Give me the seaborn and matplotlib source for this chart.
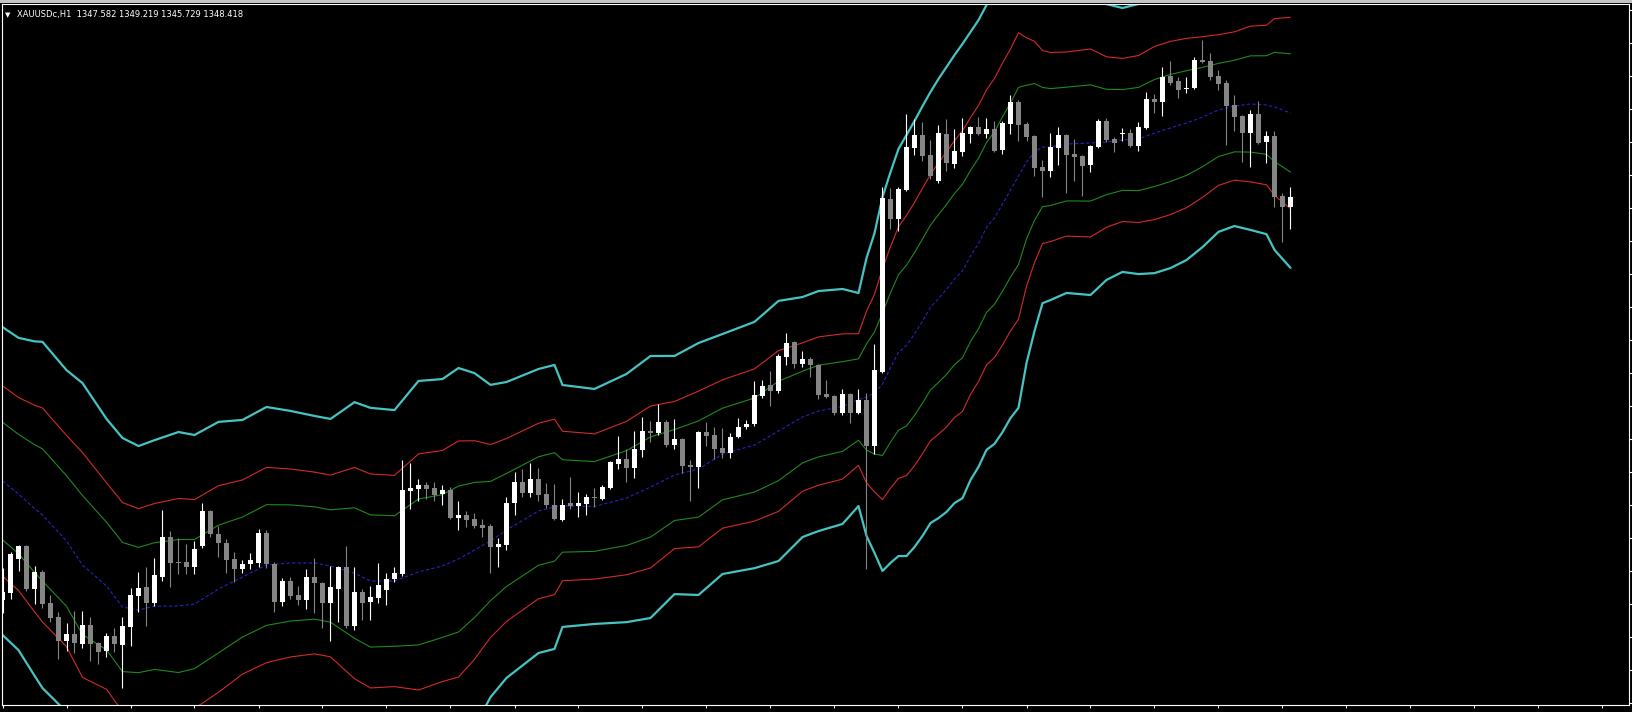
import numpy as np
import pandas as pd
import matplotlib
matplotlib.use("Agg")
import matplotlib.pyplot as plt
import seaborn as sns
from matplotlib.ticker import MultipleLocator, NullFormatter
from matplotlib.patches import Rectangle

# XAUUSDc H1 candles (oldest -> newest)
opens = [1314.84, 1315.42, 1318.25, 1319.34, 1315.75, 1317.17, 1314.59, 1313.42, 1311.42, 1312.00,
         1311.17, 1312.75, 1311.25, 1310.59, 1311.84, 1311.09, 1312.59, 1315.17, 1315.92, 1314.59,
         1316.75, 1320.09, 1318.00, 1318.00, 1317.59, 1319.34, 1322.25, 1320.34, 1319.59, 1318.25,
         1317.42, 1317.84, 1317.92, 1320.42, 1317.84, 1314.67, 1316.42, 1315.25, 1314.84, 1316.75,
         1316.25, 1314.59, 1315.75, 1317.59, 1312.67, 1315.50, 1314.67, 1315.00, 1315.67, 1316.59,
         1317.00, 1323.92, 1324.09, 1324.42, 1324.17, 1323.67, 1324.00, 1321.67, 1321.92, 1321.59,
         1321.09, 1321.00, 1319.25, 1319.42, 1322.92, 1324.67, 1323.75, 1324.92, 1323.67, 1322.75,
         1321.50, 1322.92, 1322.67, 1322.84, 1323.42, 1323.25, 1324.17, 1326.17, 1326.59, 1325.84,
         1327.34, 1328.92, 1328.75, 1329.67, 1327.75, 1328.25, 1326.09, 1325.92, 1328.84, 1328.59,
         1327.50, 1327.09, 1328.42, 1329.25, 1329.50, 1331.84, 1332.75, 1332.25, 1335.09, 1336.34,
         1334.50, 1334.92, 1334.42, 1332.00, 1331.84, 1330.42, 1332.00, 1330.42, 1331.50, 1327.67,
         1333.84, 1348.25, 1346.59, 1349.00, 1352.50, 1353.59, 1351.92, 1349.75, 1353.67, 1351.17,
         1352.17, 1353.67, 1354.25, 1353.67, 1354.09, 1352.34, 1354.50, 1356.34, 1354.50, 1353.50,
         1350.92, 1350.59, 1352.50, 1353.59, 1352.00, 1351.84, 1351.09, 1352.59, 1354.75, 1353.25,
         1353.67, 1353.75, 1352.67, 1354.17, 1356.59, 1356.34, 1358.50, 1358.09, 1357.42, 1357.50,
         1359.84, 1359.75, 1358.50, 1357.92, 1356.09, 1355.17, 1353.75, 1355.34, 1353.00, 1353.50,
         1348.50, 1347.582]
highs = [1317.50, 1318.84, 1319.42, 1319.42, 1317.67, 1317.34, 1315.25, 1313.84, 1312.92, 1313.92,
         1313.92, 1313.42, 1311.34, 1312.09, 1312.50, 1313.42, 1315.84, 1317.17, 1317.59, 1318.34,
         1322.34, 1320.59, 1320.00, 1319.50, 1319.75, 1322.92, 1322.34, 1321.00, 1319.92, 1318.84,
         1318.17, 1318.75, 1320.75, 1320.67, 1318.00, 1316.67, 1316.75, 1316.00, 1317.42, 1318.34,
         1316.34, 1317.67, 1317.67, 1319.34, 1317.59, 1315.75, 1316.00, 1317.92, 1317.09, 1317.59,
         1326.50, 1326.25, 1324.92, 1324.67, 1324.67, 1324.42, 1324.25, 1323.09, 1322.25, 1322.09,
         1321.59, 1321.17, 1320.00, 1323.42, 1325.50, 1325.75, 1326.25, 1325.84, 1324.59, 1324.50,
         1323.25, 1325.09, 1323.84, 1323.67, 1324.17, 1324.42, 1326.42, 1328.50, 1327.42, 1328.92,
         1330.09, 1329.75, 1331.17, 1329.84, 1329.92, 1328.34, 1326.50, 1328.92, 1329.67, 1329.25,
         1329.17, 1328.75, 1330.00, 1329.84, 1333.09, 1333.17, 1333.92, 1335.34, 1337.09, 1336.42,
         1335.59, 1335.09, 1334.50, 1333.17, 1331.92, 1332.42, 1332.09, 1332.42, 1332.09, 1336.17,
         1349.25, 1349.17, 1349.25, 1355.34, 1354.92, 1354.67, 1353.17, 1354.42, 1354.92, 1354.09,
         1355.00, 1354.34, 1355.09, 1355.00, 1354.75, 1354.75, 1356.92, 1356.50, 1354.67, 1353.59,
         1351.50, 1353.75, 1354.25, 1353.67, 1353.25, 1351.92, 1352.75, 1354.92, 1355.00, 1353.42,
         1354.17, 1354.09, 1354.67, 1357.17, 1357.00, 1359.25, 1359.75, 1358.42, 1358.42, 1360.09,
         1361.50, 1360.42, 1359.00, 1358.17, 1356.92, 1355.25, 1355.67, 1356.42, 1353.92, 1353.92,
         1348.75, 1349.219]
lows = [1313.75, 1314.92, 1317.25, 1315.59, 1314.50, 1314.17, 1313.00, 1309.92, 1310.59, 1310.42,
        1310.84, 1309.75, 1309.50, 1310.09, 1310.50, 1307.50, 1311.00, 1313.84, 1312.67, 1314.34,
        1316.42, 1315.92, 1317.00, 1317.00, 1317.00, 1319.17, 1320.09, 1318.42, 1317.09, 1316.34,
        1317.09, 1317.42, 1317.59, 1317.50, 1313.84, 1314.34, 1314.92, 1314.42, 1314.09, 1313.75,
        1312.50, 1311.42, 1313.00, 1312.50, 1312.34, 1313.17, 1313.17, 1314.59, 1314.42, 1316.34,
        1316.84, 1322.42, 1323.09, 1323.25, 1323.09, 1322.75, 1321.59, 1320.67, 1320.92, 1320.84,
        1320.09, 1317.09, 1317.59, 1319.00, 1321.92, 1323.42, 1323.42, 1323.09, 1322.50, 1321.50,
        1321.42, 1322.42, 1321.75, 1321.92, 1322.59, 1323.17, 1324.09, 1325.75, 1324.67, 1325.00,
        1326.75, 1328.00, 1328.59, 1327.59, 1327.42, 1325.42, 1323.09, 1324.17, 1327.67, 1326.59,
        1326.67, 1326.67, 1328.34, 1329.09, 1329.34, 1331.67, 1331.00, 1332.09, 1334.42, 1334.17,
        1334.25, 1333.42, 1331.59, 1331.67, 1330.25, 1330.25, 1329.59, 1330.34, 1317.42, 1327.00,
        1333.75, 1345.75, 1345.59, 1348.92, 1351.92, 1351.42, 1349.92, 1349.59, 1350.59, 1350.84,
        1351.84, 1352.92, 1353.59, 1353.34, 1352.17, 1352.00, 1353.67, 1353.09, 1353.09, 1350.17,
        1348.42, 1350.09, 1351.09, 1348.75, 1349.75, 1348.50, 1350.50, 1352.50, 1353.00, 1352.17,
        1353.09, 1352.59, 1352.25, 1354.09, 1355.42, 1355.17, 1357.75, 1356.67, 1357.09, 1357.42,
        1359.59, 1358.17, 1357.34, 1352.75, 1353.92, 1351.34, 1350.92, 1352.84, 1351.25, 1347.59,
        1344.67, 1345.729]
closes = [1315.50, 1318.67, 1319.34, 1315.75, 1317.17, 1314.50, 1313.34, 1311.42, 1312.00, 1311.25,
          1312.75, 1311.17, 1310.50, 1311.84, 1311.17, 1312.67, 1315.25, 1315.84, 1314.59, 1316.92,
          1320.09, 1317.92, 1317.92, 1317.59, 1319.09, 1322.25, 1320.34, 1319.59, 1318.17, 1317.42,
          1317.84, 1318.17, 1320.42, 1317.84, 1314.67, 1316.42, 1315.17, 1314.84, 1316.75, 1316.25,
          1314.59, 1315.92, 1317.59, 1312.67, 1315.50, 1314.59, 1315.09, 1316.09, 1316.59, 1317.09,
          1324.00, 1324.17, 1324.42, 1324.09, 1323.59, 1324.00, 1321.67, 1321.92, 1321.50, 1321.00,
          1320.84, 1319.25, 1319.50, 1322.92, 1324.67, 1323.75, 1324.92, 1323.59, 1322.75, 1321.59,
          1322.75, 1322.67, 1322.92, 1323.42, 1323.34, 1324.25, 1326.34, 1326.59, 1325.84, 1327.42,
          1328.92, 1328.75, 1329.67, 1327.75, 1328.25, 1326.00, 1325.92, 1328.84, 1328.50, 1327.42,
          1327.09, 1328.42, 1329.25, 1329.50, 1331.92, 1332.67, 1332.25, 1335.17, 1336.25, 1334.50,
          1334.92, 1334.42, 1331.92, 1331.75, 1330.42, 1332.00, 1330.42, 1331.50, 1327.67, 1334.00,
          1348.34, 1346.59, 1349.09, 1352.59, 1353.59, 1351.84, 1350.17, 1353.75, 1351.25, 1352.25,
          1353.75, 1354.25, 1353.67, 1354.09, 1352.25, 1354.59, 1356.34, 1354.42, 1353.42, 1350.84,
          1350.59, 1352.59, 1353.59, 1351.92, 1351.75, 1351.00, 1352.67, 1354.75, 1353.17, 1352.92,
          1353.75, 1352.67, 1354.25, 1356.59, 1356.34, 1358.42, 1357.92, 1357.34, 1357.50, 1359.84,
          1359.67, 1358.42, 1357.84, 1356.00, 1355.09, 1353.75, 1355.34, 1352.92, 1353.50, 1348.42,
          1347.58, 1348.418]

# Bollinger-style bands: middle line and one deviation, sampled at bar indices
band_idx = [0, 2, 4, 5, 8, 10, 13, 15, 17, 19, 22, 24, 27, 30, 33, 36, 39, 41, 44, 46,
            49, 52, 55, 57, 59, 61, 63, 67, 69, 70, 74, 78, 81, 84, 87, 90, 94, 97, 100, 102,
            105, 107, 108, 109, 110, 111, 112, 113, 114, 115, 116, 117, 118, 119, 120, 121, 122, 123, 124, 125,
            126, 127, 128, 129, 130, 131, 133, 136, 138, 140, 142, 144, 146, 148, 150, 152, 154, 156, 158, 159,
            161]
band_mid = [1324.75, 1323.67, 1322.46, 1321.92, 1319.75, 1317.75, 1316.00, 1314.25, 1314.00, 1314.33,
            1314.33, 1314.50, 1315.75, 1316.75, 1317.75, 1317.92, 1317.92, 1317.67, 1317.08, 1316.42,
            1316.42, 1317.17, 1317.67, 1318.25, 1319.00, 1319.75, 1320.67, 1322.25, 1322.59, 1322.67,
            1322.63, 1323.33, 1324.25, 1325.25, 1325.75, 1327.00, 1327.75, 1328.92, 1330.08, 1330.58,
            1330.96, 1331.54, 1331.75, 1332.08, 1332.83, 1334.21, 1335.46, 1336.04, 1337.00, 1338.08,
            1339.21, 1339.96, 1340.71, 1341.58, 1342.25, 1343.50, 1344.54, 1345.88, 1346.67, 1347.83,
            1349.00, 1350.17, 1351.33, 1352.17, 1352.58, 1352.58, 1352.83, 1352.92, 1353.00, 1353.17,
            1353.25, 1353.75, 1354.17, 1354.58, 1355.08, 1355.67, 1356.00, 1356.17, 1356.08, 1355.92,
            1355.42]
band_dev = [4.90, 4.97, 5.32, 5.51, 5.44, 5.79, 5.32, 5.38, 5.22, 5.28,
            5.54, 5.38, 5.32, 5.00, 5.03, 4.84, 4.68, 4.68, 5.44, 5.51,
            5.44, 6.08, 5.95, 6.08, 5.63, 4.97, 4.71, 4.52, 4.52, 3.85,
            3.74, 3.95, 4.17, 3.79, 4.01, 3.82, 3.92, 4.14, 3.82, 3.82,
            3.74, 3.39, 4.42, 5.09, 5.95, 6.22, 6.48, 6.70, 6.78, 6.84,
            6.86, 6.99, 7.08, 7.13, 7.23, 7.13, 7.11, 7.08, 7.19, 7.26,
            7.26, 7.38, 6.40, 5.70, 4.97, 4.87, 4.74, 4.84, 4.39, 4.20,
            4.30, 4.46, 4.46, 4.36, 4.14, 3.88, 3.82, 4.01, 4.11, 4.55,
            4.93]
band_mults = [2.618, 1.618, 1.0]
band_colors = ["#46c3c3", "#d42a2a", "#1f8a1f"]
band_widths = [1.6, 0.8, 0.8]

title = "XAUUSDc,H1  1347.582 1349.219 1345.729 1348.418"

W, H = 1632, 712
sns.set_style("dark")
plt.rcParams["font.family"] = ["DejaVu Sans"]

fig = plt.figure(figsize=(W / 100, H / 100), dpi=100, facecolor="black")
ax = fig.add_axes([2 / W, 7 / H, 1627 / W, 701 / H])
ax.set_facecolor("black")

bands = pd.DataFrame({"idx": band_idx, "mid": band_mid, "dev": band_dev})
for m, col, lw in zip(band_mults, band_colors, band_widths):
    for sign in (1, -1):
        sns.lineplot(x=bands["idx"], y=bands["mid"] + sign * m * bands["dev"], ax=ax,
                     color=col, linewidth=lw, estimator=None, sort=False, zorder=2)
sns.lineplot(x=bands["idx"], y=bands["mid"], ax=ax, color="#2424c8", linewidth=0.8,
             estimator=None, sort=False, zorder=2)
ax.lines[-1].set_dashes([3, 2])

df = pd.DataFrame({"o": opens, "h": highs, "l": lows, "c": closes})
df["i"] = np.arange(len(df))
bull = df["c"] >= df["o"]
colors = np.where(bull, "#ffffff", "#858585")
ax.vlines(df["i"], df["l"], df["h"], colors=colors, linewidth=0.8, zorder=3)
body_lo = np.minimum(df["o"], df["c"])
body_h = np.maximum((df["c"] - df["o"]).abs(), 0.09)
ax.bar(df["i"], body_h, bottom=body_lo, width=0.625, color=colors, linewidth=0, zorder=4)

ax.set_xlim(-0.0625, 203.3125)
ax.set_ylim(1306.085, 1364.50)
ax.set_xlabel("")
ax.set_ylabel("")
ax.grid(False)

for s in ax.spines.values():
    s.set_color("white")
    s.set_linewidth(0.8)
ax.xaxis.set_major_locator(MultipleLocator(8))
ax.yaxis.set_major_locator(MultipleLocator(2.75))
ax.xaxis.set_major_formatter(NullFormatter())
ax.yaxis.set_major_formatter(NullFormatter())
ax.tick_params(axis="x", bottom=True, direction="out", length=2.4, width=0.8, color="white")
ax.tick_params(axis="y", left=False, right=True, direction="out", length=2.2, width=0.8, color="white")

# window frame strip on top
fig.add_artist(Rectangle((0, 1 - 3 / H), 1, 3 / H, transform=fig.transFigure,
                         facecolor="#c4c4c4", edgecolor="none"))

fig.text(5 / W, 1 - 17.5 / H, "\u25bc", color="white", fontsize=5, va="baseline", ha="left")
fig.text(17 / W, 1 - 17.5 / H, title, color="white", fontsize=6, va="baseline", ha="left")

fig.savefig("out.png", dpi=100, facecolor="black")
